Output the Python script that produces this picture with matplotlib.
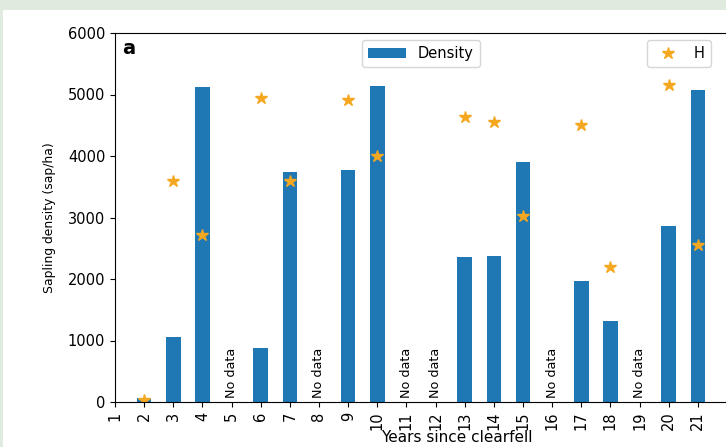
import matplotlib.pyplot as plt
import matplotlib.patches as mpatches
import numpy as np

years = list(range(1, 22))
density_years = [2, 3, 4, 6, 7, 9, 10, 13, 14, 15, 17, 18, 20, 21]
density = [70, 1050, 5130, 880, 3740, 3780, 5135, 2355, 2370, 3910, 1965, 1315, 2860, 5070]
h_years = [2, 3, 4, 6, 7, 9, 10, 13, 14, 15, 17, 18, 20, 21]
h_values = [30, 3595, 2715, 4945, 3595, 4910, 4000, 4635, 4555, 3020, 4505, 2195, 5155, 2550]
no_data_years = [5, 8, 11, 12, 16, 19]

fig = plt.figure(figsize=(7.26, 4.47), dpi=100)
fig.patch.set_facecolor("#e0ebe0")
fig.patches.append(mpatches.Rectangle((3 / 726, 0), 1, 1 - 10 / 447,
                                      transform=fig.transFigure, facecolor="white",
                                      edgecolor="none", zorder=-10))

ax = fig.add_axes([115 / 726, 45 / 447, 612 / 726, 369 / 447])
ax.set_zorder(5)

bars = ax.bar(density_years, density, width=0.5, color="#1f77b4", label="Density")
stars, = ax.plot(h_years, h_values, linestyle="none", marker="*", markersize=9,
                 color="#f5a81f", label="H")

for yr in no_data_years:
    ax.text(yr, 60, "No data", rotation=90, ha="center", va="bottom", fontsize=9.2)

ax.set_xlim(1, 22)
ax.set_ylim(0, 6000)
ax.set_xticks(years)
ax.set_xticklabels([str(y) for y in years], rotation=90, fontsize=10.5)
ax.set_yticks([0, 1000, 2000, 3000, 4000, 5000, 6000])
ax.tick_params(axis="y", labelsize=10.5)
ax.set_xlabel("Years since clearfell", fontsize=11)
ax.xaxis.set_label_coords((457 - 115) / 612, -(437 - 402) / 369)
ax.xaxis.label.set_va("center")
ax.set_ylabel("Sapling density (sap/ha)", fontsize=8.9)
ax.yaxis.set_label_coords(-(115 - 56) / 612, 0.5)
ax.spines["right"].set_visible(False)

ax.text(0.012, 0.985, "a", transform=ax.transAxes, fontsize=14, fontweight="bold",
        va="top", ha="left")

leg1 = ax.legend(handles=[bars], loc="upper center", bbox_to_anchor=(0.5, 1.0),
                 fontsize=10.5, handlelength=2.6)
ax.add_artist(leg1)
ax.legend(handles=[stars], loc="upper right", bbox_to_anchor=(0.985, 1.0), fontsize=10.5)

fig.savefig("out.png", dpi=100, facecolor=fig.get_facecolor())
